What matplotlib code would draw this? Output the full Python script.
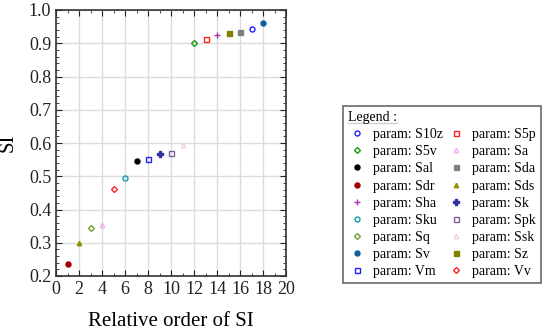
import matplotlib
matplotlib.use("Agg")
import matplotlib.pyplot as plt
from matplotlib.ticker import MultipleLocator
from matplotlib.lines import Line2D

plt.rcParams['font.family'] = ['Liberation Serif', 'DejaVu Serif']

# parameters in legend order (alphabetical)
params = ["S10z", "S5p", "S5v", "Sa", "Sal", "Sda", "Sdr", "Sds", "Sha",
          "Sk", "Sku", "Spk", "Sq", "Ssk", "Sv", "Sz", "Vm", "Vv"]
order = [17, 13, 12, 4, 7, 16, 1, 2, 14, 9, 6, 10, 3, 11, 18, 15, 8, 5]
si = [0.942, 0.914, 0.902, 0.352, 0.545, 0.934, 0.235, 0.300, 0.924,
      0.566, 0.496, 0.570, 0.343, 0.594, 0.960, 0.931, 0.551, 0.462]

# marker style for each parameter: (marker, colour, filled)
styles = {
    "S10z": ("o", "#1f1fff", False),
    "S5p": ("s", "#ff2020", False),
    "S5v": ("D", "#10a010", False),
    "Sa": ("^", "#f0b0f0", False),
    "Sal": ("o", "#000000", True),
    "Sda": ("s", "#808080", True),
    "Sdr": ("o", "#a00000", True),
    "Sds": ("^", "#909000", True),
    "Sha": ("+", "#b030b0", True),
    "Sk": ("P", "#3030a0", True),
    "Sku": ("o", "#109fb0", False),
    "Spk": ("s", "#806090", False),
    "Sq": ("D", "#70a030", False),
    "Ssk": ("^", "#f0d0d8", False),
    "Sv": ("o", "#10609f", True),
    "Sz": ("s", "#808000", True),
    "Vm": ("s", "#1f1fff", False),
    "Vv": ("D", "#ff2020", False),
}
sizes = {"o": 3.6, "s": 3.6, "D": 3.0, "^": 3.2, "+": 5, "P": 4}

fig = plt.figure(figsize=(5.5, 3.34), dpi=100)
ax = fig.add_axes([56 / 550, 58 / 334, 230 / 550, 266 / 334])

handles = []
for name, x, y in zip(params, order, si):
    m, c, filled = styles[name]
    fc = c if filled else "none"
    h, = ax.plot(x, y, linestyle="none", marker=m, markersize=sizes[m],
                 markerfacecolor=fc, markeredgecolor=c, markeredgewidth=1.0,
                 label="param: " + name, zorder=3)
    handles.append(h)

ax.set_xlim(0, 20)
ax.set_ylim(0.2, 1.0)
ax.xaxis.set_major_locator(MultipleLocator(2))
ax.xaxis.set_minor_locator(MultipleLocator(1))
ax.yaxis.set_minor_locator(MultipleLocator(0.02))
ax.set_yticks([0.2, 0.3, 0.4, 0.5, 0.6, 0.7, 0.8, 0.9, 1.0])
ax.set_yticklabels(["0.2", "0.3", "0.4", "0.5", "0.6", "0.7", "0.8", "0.9", "1.0"])
ax.grid(True, which="major", color="#dcdcdc", linewidth=1.0, zorder=0)
ax.set_axisbelow(True)
ax.tick_params(which="both", direction="in", top=True, right=True,
               labelsize=13, colors="#222222")
ax.tick_params(which="major", length=4)
ax.tick_params(which="minor", length=2)
for s in ax.spines.values():
    s.set_linewidth(1.2)
    s.set_color("#333333")
ax.set_xlabel("Relative order of SI", fontsize=15, labelpad=10)
ax.set_ylabel("SI", fontsize=15, labelpad=8)

# legend: row-major in the reference, matplotlib fills column-major
col_order = list(range(0, 18, 2)) + list(range(1, 18, 2))
leg = fig.legend([handles[i] for i in col_order],
                 [handles[i].get_label() for i in col_order],
                 ncol=2, loc="upper left", bbox_to_anchor=(343 / 550, 1 - 106 / 334),
                 title="Legend :", title_fontsize=10, fontsize=10,
                 frameon=True, fancybox=False, edgecolor="#444444",
                 borderpad=0.35, labelspacing=0.3, handletextpad=0.5,
                 columnspacing=0.3, handlelength=1.3, alignment="left",
                 borderaxespad=0)
leg.get_frame().set_linewidth(1.2)

fig.canvas.draw()
tb = leg.get_title().get_window_extent()
inv = fig.transFigure.inverted()
(x0, y0), (x1, _) = inv.transform([(tb.x0, tb.y0 + 1), (tb.x1, tb.y0)])
fig.add_artist(Line2D([x0, x1], [y0, y0], color="black", linewidth=0.9))

fig.savefig("out.png", dpi=100)
